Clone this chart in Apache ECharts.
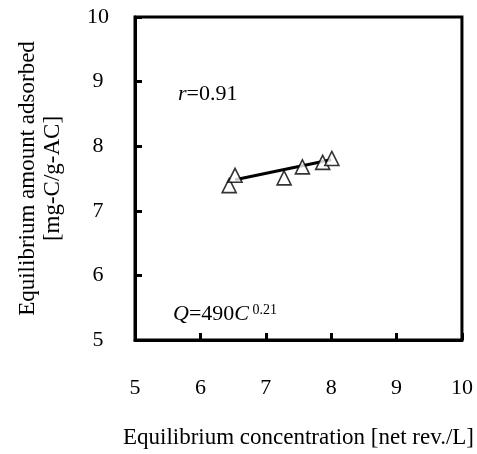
<!DOCTYPE html>
<html>
<head>
<meta charset="utf-8">
<script src="https://cdn.jsdelivr.net/npm/echarts@6/dist/echarts.min.js"></script>
<style>
	html, body { margin: 0; padding: 0; background: #fff; }
	#main { width: 477px; height: 454px; }
</style>
</head>
<body>
<div id="main"></div>
<script>
// measured points (equilibrium concentration / amount adsorbed)
var concX = [6.44, 6.53, 7.28, 7.56, 7.87, 8.01];
var amountY = [7.39, 7.55, 7.51, 7.68, 7.75, 7.81];
// fitted line end points
var fitX = [6.53, 8.0];
var fitY = [7.48, 7.79];
var xTicks = [5, 10, 1];
var yTicks = [5, 10, 1];

var font = 'Liberation Serif';
var myChart = echarts.init(document.getElementById('main'));

var points = concX.map(function (x, i) { return [x, amountY[i]]; });
var fitLine = fitX.map(function (x, i) { return [x, fitY[i]]; });

option = {
	backgroundColor: '#fff',
	animation: false,
	grid: {
		left: 135,
		right: 14,
		top: 17,
		bottom: 105,
		show: true,
		borderColor: '#000',
		borderWidth: 3
	},
	xAxis: {
		type: 'value',
		min: xTicks[0],
		max: xTicks[1],
		interval: xTicks[2],
		name: 'Equilibrium concentration [net rev./L]',
		nameLocation: 'middle',
		nameGap: 86,
		nameTextStyle: { fontFamily: font, fontSize: 23, color: '#000' },
		axisLine: { lineStyle: { color: '#000', width: 3 } },
		axisTick: {
			inside: true,
			length: 7,
			lineStyle: { color: '#000', width: 3 }
		},
		axisLabel: {
			margin: 37,
			fontFamily: font,
			fontSize: 22,
			color: '#000',
			showMinLabel: true,
			showMaxLabel: true
		},
		splitLine: { show: false }
	},
	yAxis: {
		type: 'value',
		min: yTicks[0],
		max: yTicks[1],
		interval: yTicks[2],
		name: 'Equilibrium amount adsorbed\n[mg-C/g-AC]',
		nameLocation: 'middle',
		nameGap: 70,
		nameRotate: 90,
		nameTextStyle: { fontFamily: font, fontSize: 23, color: '#000', lineHeight: 25 },
		axisLine: { lineStyle: { color: '#000', width: 3 } },
		axisTick: {
			inside: true,
			length: 7,
			lineStyle: { color: '#000', width: 3 }
		},
		axisLabel: {
			margin: 37,
			align: 'center',
			fontFamily: font,
			fontSize: 22,
			color: '#000'
		},
		splitLine: { show: false }
	},
	graphic: [{
		type: 'text',
		left: 178,
		top: 83,
		style: {
			text: '{i|r}=0.91',
			fontFamily: font,
			fontSize: 22,
			fill: '#000',
			rich: {
				i: { fontFamily: font, fontSize: 22, fontStyle: 'italic' }
			}
		}
	}, {
		type: 'text',
		left: 173,
		top: 303,
		style: {
			text: '{i|Q}=490{i|C}{s| 0.21}',
			fontFamily: font,
			fontSize: 22,
			fill: '#000',
			rich: {
				i: { fontFamily: font, fontSize: 22, fontStyle: 'italic' },
				s: { fontFamily: font, fontSize: 14, verticalAlign: 'top', padding: [0, 0, 8, 0] }
			}
		}
	}],
	series: [{
		type: 'line',
		data: fitLine,
		symbol: 'none',
		lineStyle: { color: '#000', width: 3 },
		z: 2
	}, {
		type: 'scatter',
		data: points,
		symbol: 'triangle',
		symbolSize: 14,
		itemStyle: { color: '#fff', borderColor: '#000', borderWidth: 1.6 },
		z: 3
	}]
};
myChart.setOption(option);
</script>
</body>
</html>
